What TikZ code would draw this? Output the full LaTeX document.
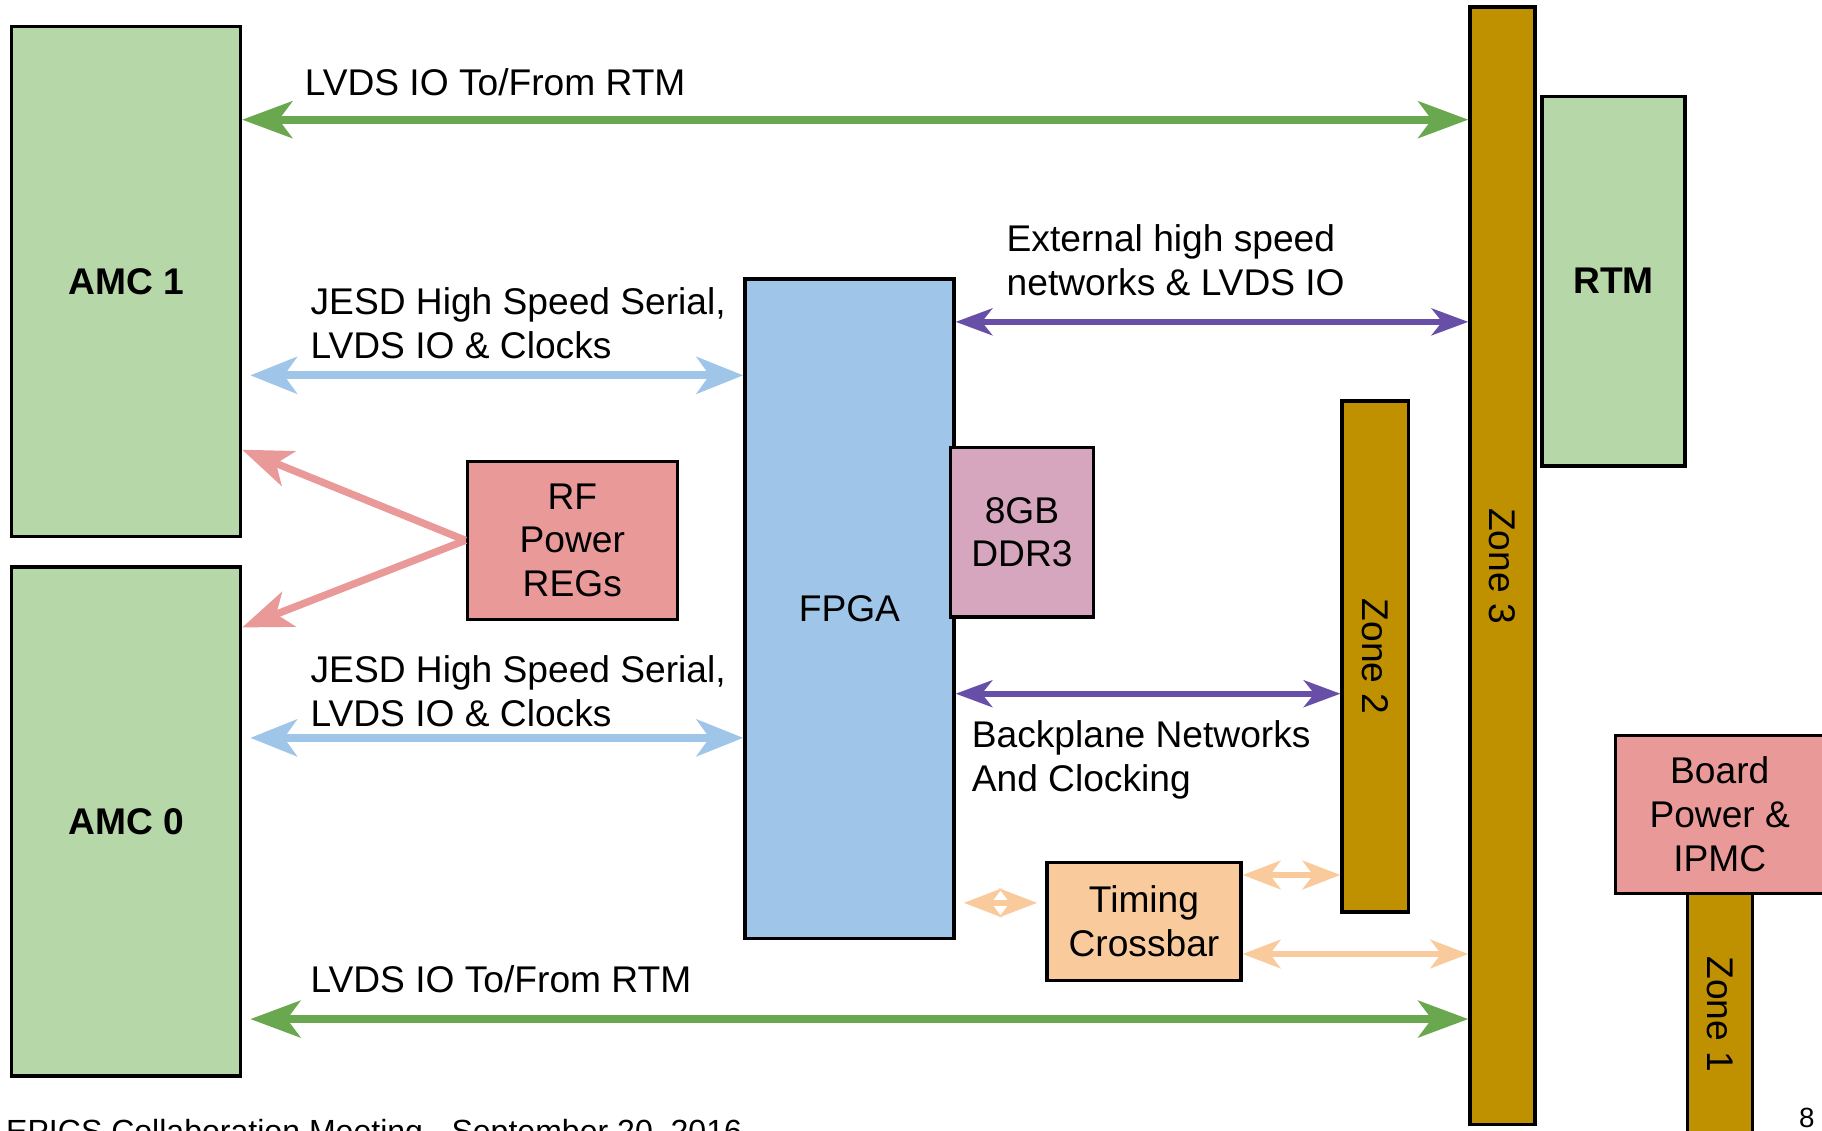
\documentclass[tikz,border=0pt]{standalone}
\usepackage{fontspec}
\setmainfont{Liberation Sans}
\usetikzlibrary{arrows.meta}

\definecolor{amcgreen}{HTML}{B6D7A8}
\definecolor{linkgreen}{HTML}{6AA84F}
\definecolor{fpgablue}{HTML}{9FC5E8}
\definecolor{regred}{HTML}{EA9999}
\definecolor{ddrpink}{HTML}{D5A6BD}
\definecolor{zonegold}{HTML}{BF9000}
\definecolor{netpurple}{HTML}{674EA7}
\definecolor{timepeach}{HTML}{F9CB9C}

\tikzset{
    box/.style={draw, line width=1.6pt, inner sep=0pt, align=center,
        font=\fontsize{18.2}{21.5}\selectfont},
    greenbox/.style={box, fill=amcgreen, font=\fontsize{18.2}{21.5}\selectfont\bfseries},
    zonebar/.style={box, fill=zonegold},
    lbl/.style={inner sep=0pt, align=left, anchor=west,
        font=\fontsize{18.2}{21.5}\selectfont},
    rtmlink/.style={draw=linkgreen, line width=4pt,
        >={Stealth[length=0.86cm, width=0.63cm, inset=0.23cm]}, <->},
    jesdlink/.style={draw=fpgablue, line width=4pt,
        >={Stealth[length=0.8cm, width=0.63cm, inset=0.22cm]}, <->},
    netlink/.style={draw=netpurple, line width=3pt,
        >={Stealth[length=0.63cm, width=0.46cm, inset=0.18cm]}, <->},
    timelink/.style={draw=timepeach, line width=3.2pt,
        >={Stealth[length=0.65cm, width=0.49cm, inset=0.18cm]}, <->},
    powerlink/.style={draw=regred, line width=3.6pt,
        >={Stealth[length=0.86cm, width=0.64cm, inset=0.23cm]}, ->}
}

\begin{document}
\begin{tikzpicture}[x=0.02cm, y=-0.02cm]
        \useasboundingbox (0,0) rectangle (1568,973);

        % AMC cards on the left
        \node[greenbox, minimum width=3.94cm, minimum height=8.78cm] (amc1) at (108.5,242.5) {AMC 1};
        \node[greenbox, minimum width=3.94cm, minimum height=8.76cm] (amc0) at (108.5,707) {AMC 0};

        % Carrier parts
        \node[box, fill=regred, minimum width=3.62cm, minimum height=2.72cm] (rfreg) at (492.5,465) {RF\\Power\\REGs};
        \node[box, fill=fpgablue, minimum width=3.6cm, minimum height=11.36cm] (fpga) at (731,524) {FPGA};
        \node[box, fill=ddrpink, minimum width=2.46cm, minimum height=2.92cm] (ddr) at (879.5,458) {8GB\\DDR3};
        \node[box, fill=timepeach, minimum width=3.34cm, minimum height=2.04cm] (timing) at (984.5,793) {Timing\\Crossbar};

        % Backplane zones and RTM
        \node[zonebar, minimum width=1.14cm, minimum height=8.8cm] (zone2) at (1183.5,565) {\rotatebox{-90}{Zone 2}};
        \node[zonebar, minimum width=1.12cm, minimum height=19.24cm] (zone3) at (1293,487) {\rotatebox{-90}{Zone 3}};
        \node[greenbox, minimum width=2.46cm, minimum height=6.36cm] (rtm) at (1388.5,242) {RTM};
        \node[zonebar, minimum width=1.12cm, minimum height=4.16cm] (zone1) at (1480,873) {\rotatebox{-90}{Zone 1}};
        \node[box, fill=regred, minimum width=3.6cm, minimum height=2.72cm] (ipmc) at (1480,701) {Board\\Power \&\\IPMC};

        % LVDS links to the RTM
        \draw[rtmlink] (amc1.east |- 0,103) -- (zone3.west |- 0,103);
        \draw[rtmlink, shorten <=4pt] (amc0.east |- 0,877) -- (zone3.west |- 0,877);
        \node[lbl, anchor=base west] (lvdstop) at (262,82) {LVDS IO To/From RTM};
        \node[lbl, anchor=base west] (lvdsbot) at (267,854) {LVDS IO To/From RTM};

        % JESD links
        \draw[jesdlink, shorten <=4pt] (amc1.east |- 0,323) -- (fpga.west |- 0,323);
        \draw[jesdlink, shorten <=4pt] (amc0.east |- 0,635) -- (fpga.west |- 0,635);
        \node[lbl] (jesdtop) at (267,278) {JESD High Speed Serial,\\LVDS IO \& Clocks};
        \node[lbl] (jesdbot) at (267,595) {JESD High Speed Serial,\\LVDS IO \& Clocks};

        % RF power
        \draw[powerlink] (rfreg.west) -- (amc1.east |- 0,387);
        \draw[powerlink] (rfreg.west) -- (amc0.east |- 0,540);

        % Networks
        \draw[netlink] (fpga.east |- 0,277) -- (zone3.west |- 0,277);
        \draw[netlink] (fpga.east |- 0,597) -- (zone2.west |- 0,597);
        \node[lbl] (extnet) at (866,224) {External high speed\\networks \& LVDS IO};
        \node[lbl] (bpnet) at (836,654) {Backplane Networks\\And Clocking};

        % Timing
        \draw[timelink, shorten <=4pt, shorten >=4pt] (fpga.east |- 0,777) -- (timing.west |- 0,777);
        \draw[timelink] (timing.east |- 0,753) -- (zone2.west |- 0,753);
        \draw[timelink] (timing.east |- 0,821) -- (zone3.west |- 0,821);

        % Footer
        \node[inner sep=0pt, anchor=base west, font=\fontsize{15.7}{18}\selectfont] (footer) at (5,983) {EPICS Collaboration Meeting - September 20, 2016};
        \node[inner sep=0pt, anchor=base, font=\fontsize{13.6}{16}\selectfont] (pagenum) at (1555,970) {8};
    \end{tikzpicture}
\end{document}
